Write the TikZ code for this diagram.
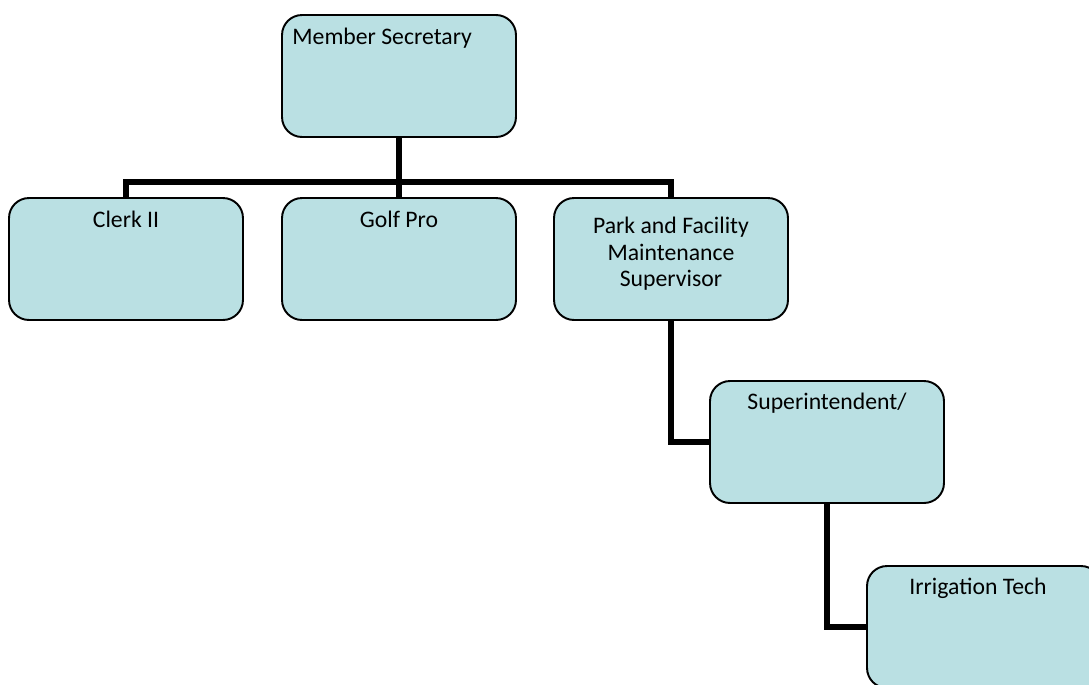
\documentclass[tikz,border=0pt]{standalone}
\usepackage{fontspec}
\setmainfont{Carlito}
\definecolor{boxblue}{RGB}{186,224,227}

\begin{document}
\begin{tikzpicture}[x=0.02cm,y=-0.02cm]
\useasboundingbox (0,0) rectangle (1089,684);
   \tikzset{BoxStyle/.style = {draw = black, line width = 1.1pt, fill = boxblue, rounded corners = 0.4cm, minimum width = 4.68cm, minimum height = 2.44cm, inner sep = 0pt}}
   \tikzset{TextStyle/.style = {font = \fontsize{13.5}{14.9}\selectfont, align = center, anchor = base, inner sep = 0pt}}
   \tikzset{EdgeStyle/.style = {line width = 3.4pt}}

   \node[BoxStyle] (MS) at (399,76) {};
   \node[BoxStyle] (CL) at (126,259) {};
   \node[BoxStyle] (GP) at (399,259) {};
   \node[BoxStyle] (PF) at (671,259) {};
   \node[BoxStyle] (SU) at (827,442) {};
   \node[BoxStyle] (IT) at (984,627) {};

%  connectors, from box to box
   \coordinate (J) at (399,182);
   \draw[EdgeStyle] (MS.south) -- (GP.north);
   \draw[EdgeStyle] (CL.north) |- (J) -| (PF.north);
   \draw[EdgeStyle] (PF.south) |- (SU.west);
   \draw[EdgeStyle] (SU.south) |- (IT.west);

%\draw[help lines] (0,0) grid[step=50] (1089,684);
   \node[TextStyle, anchor = base west] (MSt) at ([xshift=0.22cm,yshift=-0.6cm]MS.north west) {Member Secretary};
   \node[TextStyle] (CLt) at ([yshift=-0.6cm]CL.north) {Clerk II};
   \node[TextStyle] (GPt) at ([yshift=-0.6cm]GP.north) {Golf Pro};
   \node[TextStyle, anchor = north] (PFt) at ([yshift=-0.4cm]PF.north) {Park and Facility\\Maintenance\\Supervisor};
   \node[TextStyle] (SUt) at ([yshift=-0.58cm]SU.north) {Superintendent/};
   \node[TextStyle] (ITt) at ([xshift=-0.12cm,yshift=-0.58cm]IT.north) {Irrigation Tech};
\end{tikzpicture}
\end{document}
